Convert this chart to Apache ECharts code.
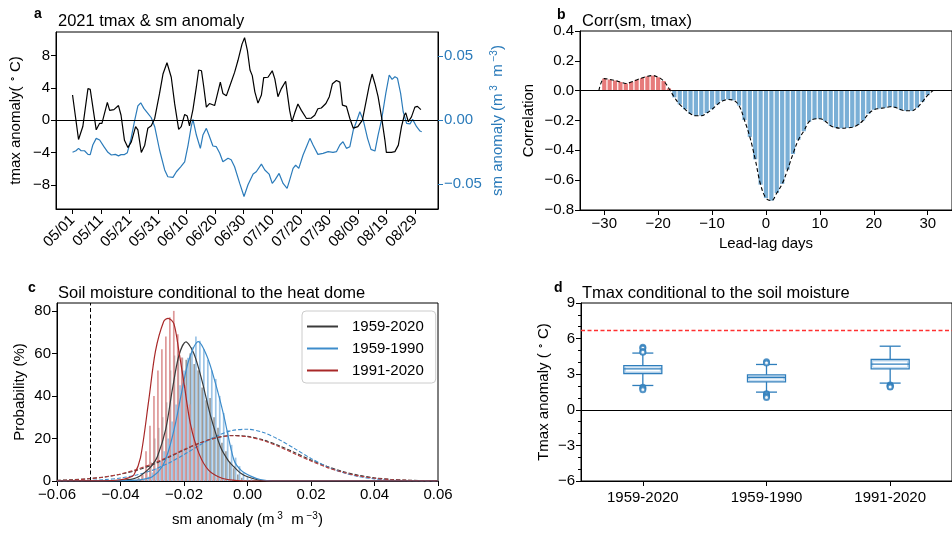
<!DOCTYPE html>
<html>
<head>
<meta charset="utf-8">
<script src="https://cdn.jsdelivr.net/npm/echarts@6/dist/echarts.min.js"></script>
<style>
  html, body { margin: 0; padding: 0; background: #fff; }
  #chart { width: 952px; height: 533px; }
</style>
</head>
<body>
<div id="chart"></div>
<script>
// ---- panel a: 2021 daily anomalies, day 0 = 05/01 ----
const dateTickDays = [0, 10, 20, 30, 40, 50, 60, 70, 80, 90, 100, 110, 120]
const dateTickLabels = ['05/01', '05/11', '05/21', '05/31', '06/10', '06/20', '06/30',
  '07/10', '07/20', '07/30', '08/09', '08/19', '08/29']
const tmax2021 = [[0, 3.1], [2.1, -2.4], [3.6, -0.8], [5.4, 3.9], [6.2, 3.8], [8.3, -1.2], [9.5, -0.4],
  [10.3, -0.4], [12.2, 2.2], [13, 1.2], [14.5, 1.3], [16.1, 1.8], [17, 0.6], [18.2, -2.5], [19.4, -3.4],
  [20.6, -2.7], [22.1, -0.8], [22.9, -1.2], [24.1, -4.0], [25.3, -3.1], [26.4, -1.0], [27.6, -0.7],
  [28.8, 0.2], [30.5, 3.3], [31.7, 5.7], [33.1, 7.1], [34.6, 5.3], [35.8, 2.0], [37.2, -1.15], [38.1, -0.8],
  [39.3, 0.7], [40.2, 0.5], [41, -0.7], [42.2, 1.3], [43.4, 4.1], [44.2, 6.2], [45.2, 6.1], [46, 4.1],
  [46.9, 1.6], [48, 2.05], [49.8, 1.8], [51.8, 4.7], [52.7, 3.3], [53.9, 3.0], [55, 4.1], [56.8, 5.9],
  [58, 7.4], [59.4, 9.4], [60.3, 10.2], [61.3, 8.6], [62.2, 6.2], [63, 5.5], [63.9, 3.5], [65, 2.1],
  [66.2, 3.1], [67, 5.25], [68.5, 5.3], [70, 6.1], [70.9, 5.1], [72, 2.9], [73.2, 3.9], [74.7, 4.8],
  [76.1, 1.2], [76.9, -0.2], [77.9, 0.9], [79, 2.0], [80.2, 1.2], [82, 0.2], [83.7, 0.25], [84.9, 0.6],
  [86, 1.4], [87.2, 1.5], [88.8, 2.05], [90, 2.9], [91.1, 4.5], [92.5, 4.9], [93.7, 4.7], [94.6, 1.85],
  [96, 1.7], [97.2, 0.2], [98.4, -1.0], [100, -0.8], [101.6, 0], [103, 2.5], [104, 4.3], [105, 5.7],
  [106, 4.5], [107.1, 2.9], [108.3, 0.4], [109.5, -2.5], [110, -4.0], [111.8, -4.0], [113, -3.9],
  [114.2, -3.1], [115.3, -0.8], [116.3, 0.6], [116.8, 0.9], [117.7, -0.2], [118.8, 0.4], [120, 1.6],
  [120.9, 1.7], [122.1, 1.3]]
const sm2021 = [[0, -0.0252], [1.2, -0.024], [2.1, -0.0221], [3, -0.024], [4.2, -0.024], [5.4, -0.0268],
  [6.2, -0.027], [7.1, -0.0195], [8.3, -0.0143], [9.5, -0.0156], [11, -0.0208], [12.4, -0.0252],
  [13.6, -0.0273], [15, -0.0268], [16.1, -0.028], [17, -0.027], [18.2, -0.027], [19.2, -0.0255],
  [20.4, -0.0156], [21.8, 0], [22.9, 0.011], [23.9, 0.0135], [25, 0.0091], [26.4, 0.0052], [27.6, 0.0018],
  [28.8, -0.0052], [30.5, -0.0234], [32.3, -0.039], [33.4, -0.0443], [35.2, -0.0448], [36.4, -0.0404],
  [37.9, -0.0365], [39.3, -0.0326], [40.5, -0.0195], [41.6, -0.0052], [42.2, 0.0005], [43.4, -0.0117],
  [44.8, -0.0221], [45.7, -0.0117], [46.9, -0.0065], [47.8, -0.0117], [49.2, -0.0203], [50.4, -0.0208],
  [51.6, -0.026], [52.7, -0.0326], [54.5, -0.0299], [55.6, -0.031], [56.8, -0.0365], [58.6, -0.0495],
  [60.1, -0.0597], [61.5, -0.0505], [63.3, -0.0422], [64.4, -0.0404], [66.2, -0.0344], [67.4, -0.039],
  [68.9, -0.0422], [70, -0.0495], [70.9, -0.0469], [72.4, -0.0417], [73.8, -0.0495], [75.2, -0.0534],
  [76.1, -0.0469], [77.3, -0.0378], [78.2, -0.0352], [79.3, -0.0378], [80.8, -0.0273], [82, -0.0208],
  [83.2, -0.0143], [84.3, -0.0195], [86, -0.0268], [87.8, -0.026], [89.6, -0.0247], [91.3, -0.0252],
  [92.5, -0.0247], [93.7, -0.0195], [94.8, -0.0169], [96, -0.0221], [97.2, -0.0208], [98.4, -0.0078],
  [99.5, -0.0013], [100.7, 0.0065], [101.9, 0], [103.4, -0.0143], [104.6, -0.0229], [106, -0.0242],
  [107.1, -0.0117], [108.3, 0], [109.8, 0.0208], [111, 0.0352], [112, 0.0318], [113, 0.0338],
  [113.9, 0.0326], [115, 0.0208], [115.9, 0.0065], [117.1, -0.0026], [118.3, -0.003], [119.2, 0.0005],
  [120.6, -0.0052], [121.8, -0.0086], [122.4, -0.0091]]

// ---- panel b: lead-lag correlation ----
const lagDays = [-31, -30, -29, -28, -27, -26, -25, -24, -23, -22, -21, -20, -19, -18, -17, -16, -15, -14,
  -13, -12, -11, -10, -9, -8, -7, -6, -5, -4, -3, -2, -1, 0, 1, 2, 3, 4, 5, 6, 7, 8, 9, 10, 11, 12, 13, 14,
  15, 16, 17, 18, 19, 20, 21, 22, 23, 24, 25, 26, 27, 28, 29, 30, 31]
const corrSmTmax = [0.0, 0.081, 0.075, 0.068, 0.058, 0.048, 0.058, 0.072, 0.085, 0.096, 0.101, 0.09, 0.065,
  0.015, -0.045, -0.092, -0.125, -0.155, -0.168, -0.168, -0.15, -0.125, -0.092, -0.068, -0.059, -0.065,
  -0.1, -0.197, -0.31, -0.46, -0.63, -0.72, -0.737, -0.686, -0.625, -0.53, -0.425, -0.33, -0.272, -0.208,
  -0.19, -0.188, -0.205, -0.235, -0.248, -0.252, -0.25, -0.245, -0.23, -0.2, -0.155, -0.128, -0.12,
  -0.115, -0.108, -0.112, -0.128, -0.135, -0.135, -0.115, -0.075, -0.03, 0.0]

// ---- panel c: soil moisture distributions ----
const periodNames = ['1959-2020', '1959-1990', '1991-2020']
const histBins = [-0.035, -0.03375, -0.0325, -0.03125, -0.03, -0.02875, -0.0275, -0.02625, -0.025,
  -0.02375, -0.0225, -0.02125, -0.02, -0.01875, -0.0175, -0.01625, -0.015, -0.01375, -0.0125, -0.01125,
  -0.01, -0.00875, -0.0075, -0.00625, -0.005, -0.00375, -0.0025, -0.00125, 0, 0.00125]
const hist1959_2020 = [0.5, 1.5, 3, 5, 9, 20, 25, 30, 37, 52, 59, 61, 58, 57, 60, 55, 52, 44, 38, 39, 30,
  25, 18, 14, 9, 6, 3, 1.5, 0.5, 0]
const hist1959_1990 = [0, 0, 1, 2, 4, 6, 9, 14, 20, 28, 36, 45, 52, 58, 63, 68, 66, 62, 57, 52, 48, 40, 32,
  24, 17, 11, 7, 4, 2, 1]
const hist1991_2020 = [1, 3, 14, 26, 40, 52, 62, 68, 77, 80, 69, 58, 45, 36, 25, 17, 11, 7, 4, 2.5, 1.5, 1,
  0.8, 0.5, 0.3, 0, 0, 0, 0, 0]
const fit1959_2020 = [[-0.06, 0], [-0.045, 0], [-0.04, 0.3], [-0.036, 1.0], [-0.034, 2.2], [-0.0316, 5],
  [-0.03, 7.5], [-0.0284, 11.4], [-0.0258, 24], [-0.0237, 42.7], [-0.0216, 59], [-0.0194, 65.4],
  [-0.0169, 60], [-0.0143, 47], [-0.0117, 31], [-0.0085, 16], [-0.006, 9.5], [-0.0043, 6.7], [-0.002, 3.5],
  [0, 2], [0.004, 0.3], [0.008, 0], [0.06, 0]]
const fit1959_1990 = [[-0.06, 0], [-0.045, 0], [-0.038, 0.2], [-0.033, 0.8], [-0.03, 2], [-0.0269, 6.7],
  [-0.0248, 14.6], [-0.0227, 27], [-0.0206, 42.7], [-0.0185, 56.8], [-0.0155, 65.5], [-0.0127, 58.4],
  [-0.0101, 46], [-0.0075, 31], [-0.0043, 10], [-0.002, 5], [0.001, 2.3], [0.004, 0.7], [0.008, 0], [0.06, 0]]
const fit1991_2020 = [[-0.06, 0], [-0.045, 0.1], [-0.04, 0.6], [-0.0375, 1.5], [-0.0358, 2.8],
  [-0.0337, 11], [-0.0311, 38], [-0.029, 61], [-0.0264, 75], [-0.025, 76.5], [-0.0232, 74], [-0.0216, 61],
  [-0.02, 46], [-0.018, 27], [-0.0153, 13], [-0.0122, 5], [-0.008, 1.3], [-0.004, 0.3], [0, 0], [0.06, 0]]
const climX = [-0.06, -0.055, -0.05, -0.045, -0.04, -0.035, -0.03, -0.025, -0.02, -0.015, -0.01, -0.005, 0,
  0.005, 0.01, 0.015, 0.02, 0.025, 0.03, 0.035, 0.04, 0.045, 0.05, 0.055, 0.06]
const clim1959_2020 = [0.3, 0.6, 1.1, 1.9, 3.2, 5.0, 7.6, 11.0, 14.6, 17.9, 20.3, 21.4, 21.0, 19.3, 16.6,
  13.3, 9.9, 6.9, 4.5, 2.7, 1.5, 0.8, 0.4, 0.2, 0.1]
const clim1959_1990 = [0.03, 0.1, 0.27, 0.64, 1.4, 2.8, 5.0, 8.3, 12.4, 16.9, 21.0, 23.7, 24.35, 22.8, 19.4,
  15.1, 10.6, 6.8, 4.0, 2.1, 1.0, 0.45, 0.18, 0.07, 0.02]
const clim1991_2020 = [0.24, 0.52, 1.03, 1.9, 3.3, 5.4, 8.1, 11.3, 14.8, 17.9, 20.2, 21.3, 20.8, 19.0, 16.1,
  12.7, 9.4, 6.4, 4.1, 2.4, 1.3, 0.69, 0.33, 0.15, 0.06]
const heatDomeSm = -0.049

// ---- panel d: tmax boxplots [low whisker, q1, median, q3, high whisker] ----
const tmaxBoxes = [[2.05, 3.06, 3.45, 3.73, 4.78], [1.49, 2.36, 2.72, 2.95, 3.82], [2.25, 3.45, 3.85, 4.24, 5.36]]
const tmaxOutliers = [[0, 5.28], [0, 5.18], [0, 4.92], [0, 4.85], [0, 1.91], [0, 1.8], [0, 1.68],
  [1, 4.04], [1, 3.95], [1, 1.35], [1, 1.26], [1, 1.15], [1, 1.04],
  [2, 2.1], [2, 2.02], [2, 1.96], [2, 1.92]]
const heatDomeTmax = 6.7

const FONT = 'Liberation Sans'
const BLUE = '#2b7bba'
const chart = echarts.init(document.getElementById('chart'))

function minus (v) { return String(v).replace('-', '\u2212') }
function merge (a, b) {
  const out = Object.assign({}, a)
  for (const k in b) {
    if (b[k] && typeof b[k] === 'object' && !Array.isArray(b[k]) && a[k] && typeof a[k] === 'object') {
      out[k] = merge(a[k], b[k])
    } else {
      out[k] = b[k]
    }
  }
  return out
}
const baseAxis = {
  type: 'value',
  axisLine: { show: true, onZero: false, lineStyle: { color: '#000', width: 1 } },
  axisTick: { show: true, inside: false, length: 5, lineStyle: { color: '#000' } },
  axisLabel: { color: '#000', fontFamily: FONT, fontSize: 15, margin: 6 },
  splitLine: { show: false },
  nameLocation: 'middle',
  nameTextStyle: { color: '#000', fontFamily: FONT, fontSize: 15 }
}
const supRich = {
  n: { fontFamily: FONT, fontSize: 15, lineHeight: 18 },
  s: { fontFamily: FONT, fontSize: 10, verticalAlign: 'top', lineHeight: 18 },
  b: { fontFamily: FONT, fontSize: 15, lineHeight: 18, color: BLUE },
  bs: { fontFamily: FONT, fontSize: 10, verticalAlign: 'top', lineHeight: 18, color: BLUE }
}
const gridBox = { show: true, borderColor: '#000', borderWidth: 1, backgroundColor: 'transparent' }

const titleStyle = { fontFamily: FONT, fontSize: 16.5, fontWeight: 'normal', color: '#000' }
const letterStyle = { fontFamily: FONT, fontSize: 14, fontWeight: 'bold', color: '#000' }

const option = {
  animation: false,
  backgroundColor: '#fff',
  title: [
    { text: 'a', left: 29, top: 2, textStyle: letterStyle },
    { text: '2021 tmax & sm anomaly', left: 53, top: 8, textStyle: titleStyle },
    { text: 'b', left: 552, top: 3, textStyle: letterStyle },
    { text: 'Corr(sm, tmax)', left: 577, top: 8, textStyle: titleStyle },
    { text: 'c', left: 23, top: 276, textStyle: letterStyle },
    { text: 'Soil moisture conditional to the heat dome', left: 53, top: 280, textStyle: titleStyle },
    { text: 'd', left: 549, top: 276, textStyle: letterStyle },
    { text: 'Tmax conditional to the soil moisture', left: 577, top: 280, textStyle: titleStyle }
  ],
  legend: {
    data: periodNames,
    orient: 'vertical',
    left: 302,
    top: 311,
    icon: 'rect',
    itemWidth: 31,
    itemHeight: 2,
    itemGap: 7,
    padding: [8, 12, 5, 5],
    borderColor: '#ccc',
    borderWidth: 1,
    borderRadius: 4,
    backgroundColor: '#fff',
    textStyle: { fontFamily: FONT, fontSize: 15, color: '#000', padding: [0, 0, 0, 9] }
  },
  grid: [
    merge(gridBox, { left: 56, top: 32, width: 382, height: 177 }),
    merge(gridBox, { left: 580, top: 31, width: 384, height: 179 }),
    merge(gridBox, { left: 57, top: 303, width: 381, height: 178 }),
    merge(gridBox, { left: 581, top: 303, width: 383, height: 178 })
  ],
  xAxis: [
    merge(baseAxis, {
      gridIndex: 0, min: -5.8, max: 128.1,
      axisTick: { customValues: dateTickDays },
      axisLabel: {
        customValues: dateTickDays, rotate: 45, fontSize: 15, margin: 9,
        formatter: v => dateTickLabels[dateTickDays.indexOf(Math.round(v))] || ''
      }
    }),
    merge(baseAxis, {
      gridIndex: 1, min: -34.5, max: 34.5,
      name: 'Lead-lag days', nameGap: 26,
      axisTick: { customValues: [-30, -20, -10, 0, 10, 20, 30] },
      axisLabel: { customValues: [-30, -20, -10, 0, 10, 20, 30], formatter: v => minus(v) }
    }),
    merge(baseAxis, {
      gridIndex: 2, min: -0.06, max: 0.06, interval: 0.02,
      name: '{n|sm anomaly (m}{s| 3}{n|  m}{s| \u22123}{n|)}', nameGap: 30,
      nameTextStyle: { rich: supRich },
      axisLabel: { formatter: v => minus(v.toFixed(2)) }
    }),
    merge(baseAxis, {
      gridIndex: 3, type: 'category', data: periodNames,
      axisTick: { alignWithLabel: true },
      axisLabel: { margin: 9 }
    })
  ],
  yAxis: [
    merge(baseAxis, {
      gridIndex: 0, min: -11, max: 10.9,
      name: '{n|tmax anomaly( }{s|\u2218}{n| C)}', nameGap: 31,
      nameTextStyle: { rich: supRich },
      axisTick: { customValues: [-8, -4, 0, 4, 8] },
      axisLabel: { customValues: [-8, -4, 0, 4, 8], formatter: v => minus(v) }
    }),
    merge(baseAxis, {
      gridIndex: 0, position: 'right', min: -0.0695, max: 0.0688,
      name: '{b|sm anomaly (m}{bs| 3}{b|  m}{bs| \u22123}{b|)}', nameGap: 51, nameRotate: 90,
      nameTextStyle: { rich: supRich, color: BLUE },
      axisTick: { customValues: [-0.05, 0, 0.05], lineStyle: { color: BLUE } },
      axisLabel: { customValues: [-0.05, 0, 0.05], color: BLUE, formatter: v => minus(v.toFixed(2)) }
    }),
    merge(baseAxis, {
      gridIndex: 1, min: -0.8, max: 0.4, interval: 0.2,
      name: 'Correlation', nameGap: 44,
      axisLabel: { formatter: v => minus(v.toFixed(1)) }
    }),
    merge(baseAxis, {
      gridIndex: 2, min: 0, max: 83.7, interval: 20,
      name: 'Probability (%)', nameGap: 30
    }),
    merge(baseAxis, {
      gridIndex: 3, min: -6, max: 9, interval: 3,
      name: '{n|Tmax anomaly ( }{s|\u2218}{n| C)}', nameGap: 28,
      nameTextStyle: { rich: supRich },
      minorTick: { show: true, splitNumber: 3, length: 3, lineStyle: { color: '#000' } },
      axisLabel: { formatter: v => minus(v) }
    })
  ],
  series: [
    // panel a
    {
      name: 'sm 2021', type: 'line', xAxisIndex: 0, yAxisIndex: 1, data: sm2021,
      symbol: 'none', lineStyle: { color: BLUE, width: 1.2 }, z: 3
    },
    {
      name: 'tmax 2021', type: 'line', xAxisIndex: 0, yAxisIndex: 0, data: tmax2021,
      symbol: 'none', lineStyle: { color: '#000', width: 1.2 }, z: 4,
      markLine: {
        silent: true, symbol: 'none', label: { show: false },
        lineStyle: { color: '#000', type: 'solid', width: 1.2 },
        data: [{ yAxis: 0 }]
      }
    },
    // panel b
    {
      name: 'corr bars', type: 'bar', xAxisIndex: 1, yAxisIndex: 2, barWidth: 4.2,
      data: lagDays.map((d, i) => ({
        value: [d, corrSmTmax[i]],
        itemStyle: { color: corrSmTmax[i] >= 0 ? '#e77b7b' : '#7aafd6' }
      })),
      markLine: {
        silent: true, symbol: 'none', label: { show: false },
        lineStyle: { color: '#000', type: 'solid', width: 1.2 },
        data: [{ yAxis: 0 }]
      }
    },
    {
      name: 'corr curve', type: 'line', xAxisIndex: 1, yAxisIndex: 2, smooth: 0.4, symbol: 'none',
      data: lagDays.map((d, i) => [d, corrSmTmax[i]]),
      lineStyle: { color: '#000', width: 1.1, type: [4, 2.5] }, z: 5
    },
    // panel c histograms
    {
      name: 'h1959-2020', type: 'bar', xAxisIndex: 2, yAxisIndex: 3, barWidth: 1.7, barGap: '0%',
      data: histBins.map((b, i) => [b, hist1959_2020[i]]), itemStyle: { color: '#9a9a9a' }
    },
    {
      name: 'h1959-1990', type: 'bar', xAxisIndex: 2, yAxisIndex: 3, barWidth: 1.7, barGap: '0%',
      data: histBins.map((b, i) => [b, hist1959_1990[i]]), itemStyle: { color: '#9cc4e6' }
    },
    {
      name: 'h1991-2020', type: 'bar', xAxisIndex: 2, yAxisIndex: 3, barWidth: 1.7, barGap: '0%',
      data: histBins.map((b, i) => [b, hist1991_2020[i]]), itemStyle: { color: '#de9999' },
      markLine: {
        silent: true, symbol: 'none', label: { show: false },
        lineStyle: { color: '#000', type: [4, 2.5], width: 1 },
        data: [{ xAxis: heatDomeSm }]
      }
    },
    // panel c climatological curves (dashed)
    {
      name: 'c1959-2020', type: 'line', xAxisIndex: 2, yAxisIndex: 3, smooth: 0.3, symbol: 'none',
      data: climX.map((x, i) => [x, clim1959_2020[i]]),
      lineStyle: { color: '#3a3a3a', width: 1.1, type: [4, 2] }, z: 4
    },
    {
      name: 'c1959-1990', type: 'line', xAxisIndex: 2, yAxisIndex: 3, smooth: 0.3, symbol: 'none',
      data: climX.map((x, i) => [x, clim1959_1990[i]]),
      lineStyle: { color: '#3d8ccb', width: 1.1, type: [4, 2] }, z: 4
    },
    {
      name: 'c1991-2020', type: 'line', xAxisIndex: 2, yAxisIndex: 3, smooth: 0.3, symbol: 'none',
      data: climX.map((x, i) => [x, clim1991_2020[i]]),
      lineStyle: { color: '#b33a3a', width: 1.1, type: [4, 2] }, z: 4
    },
    // panel c conditional fits (solid, in legend)
    {
      name: '1959-2020', type: 'line', xAxisIndex: 2, yAxisIndex: 3, smooth: 0.3, symbol: 'none',
      data: fit1959_2020, lineStyle: { color: '#3a3a3a', width: 1.2 }, itemStyle: { color: '#3a3a3a' }, z: 5
    },
    {
      name: '1959-1990', type: 'line', xAxisIndex: 2, yAxisIndex: 3, smooth: 0.3, symbol: 'none',
      data: fit1959_1990, lineStyle: { color: '#3d8ccb', width: 1.2 }, itemStyle: { color: '#3d8ccb' }, z: 5
    },
    {
      name: '1991-2020', type: 'line', xAxisIndex: 2, yAxisIndex: 3, smooth: 0.3, symbol: 'none',
      data: fit1991_2020, lineStyle: { color: '#a82828', width: 1.2 }, itemStyle: { color: '#a82828' }, z: 5
    },
    // panel d
    {
      name: 'tmax boxes', type: 'custom', xAxisIndex: 3, yAxisIndex: 4,
      encode: { x: 0, y: [1, 2, 3, 4, 5] },
      data: tmaxBoxes.map((b, i) => [i].concat(b)),
      renderItem: function (params, api) {
        const cat = api.value(0)
        const lo = api.coord([cat, api.value(1)])
        const q1 = api.coord([cat, api.value(2)])
        const md = api.coord([cat, api.value(3)])
        const q3 = api.coord([cat, api.value(4)])
        const hi = api.coord([cat, api.value(5)])
        const x = lo[0]
        const bw = 38
        const cw = 21
        const dark = { stroke: '#2f7ebc', lineWidth: 1.3, fill: null }
        const light = { stroke: '#b5d4ee', lineWidth: 1, fill: null }
        return {
          type: 'group',
          children: [
            { type: 'line', shape: { x1: x, y1: lo[1], x2: x, y2: q1[1] }, style: dark },
            { type: 'line', shape: { x1: x, y1: q3[1], x2: x, y2: hi[1] }, style: dark },
            { type: 'line', shape: { x1: x - cw / 2, y1: lo[1], x2: x + cw / 2, y2: lo[1] }, style: dark },
            { type: 'line', shape: { x1: x - cw / 2, y1: hi[1], x2: x + cw / 2, y2: hi[1] }, style: dark },
            { type: 'rect', shape: { x: x - bw / 2 + 1.5, y: q3[1] + 1.5, width: bw - 3, height: q1[1] - q3[1] - 3 }, style: light },
            { type: 'rect', shape: { x: x - bw / 2, y: q3[1], width: bw, height: q1[1] - q3[1] }, style: dark },
            { type: 'line', shape: { x1: x - bw / 2, y1: md[1], x2: x + bw / 2, y2: md[1] }, style: dark }
          ]
        }
      }
    },
    {
      name: 'tmax outliers', type: 'scatter', xAxisIndex: 3, yAxisIndex: 4, data: tmaxOutliers,
      symbol: 'emptyCircle', symbolSize: 5,
      itemStyle: { color: '#2f7ebc', borderColor: '#2f7ebc', borderWidth: 1 },
      markLine: {
        silent: true, symbol: 'none', label: { show: false },
        data: [
          { yAxis: 0, lineStyle: { color: '#000', type: 'solid', width: 1.2 } },
          { yAxis: heatDomeTmax, lineStyle: { color: '#ff3030', type: [4, 2.5], width: 1.3 } }
        ]
      }
    }
  ]
}
chart.setOption(option)
</script>
</body>
</html>
